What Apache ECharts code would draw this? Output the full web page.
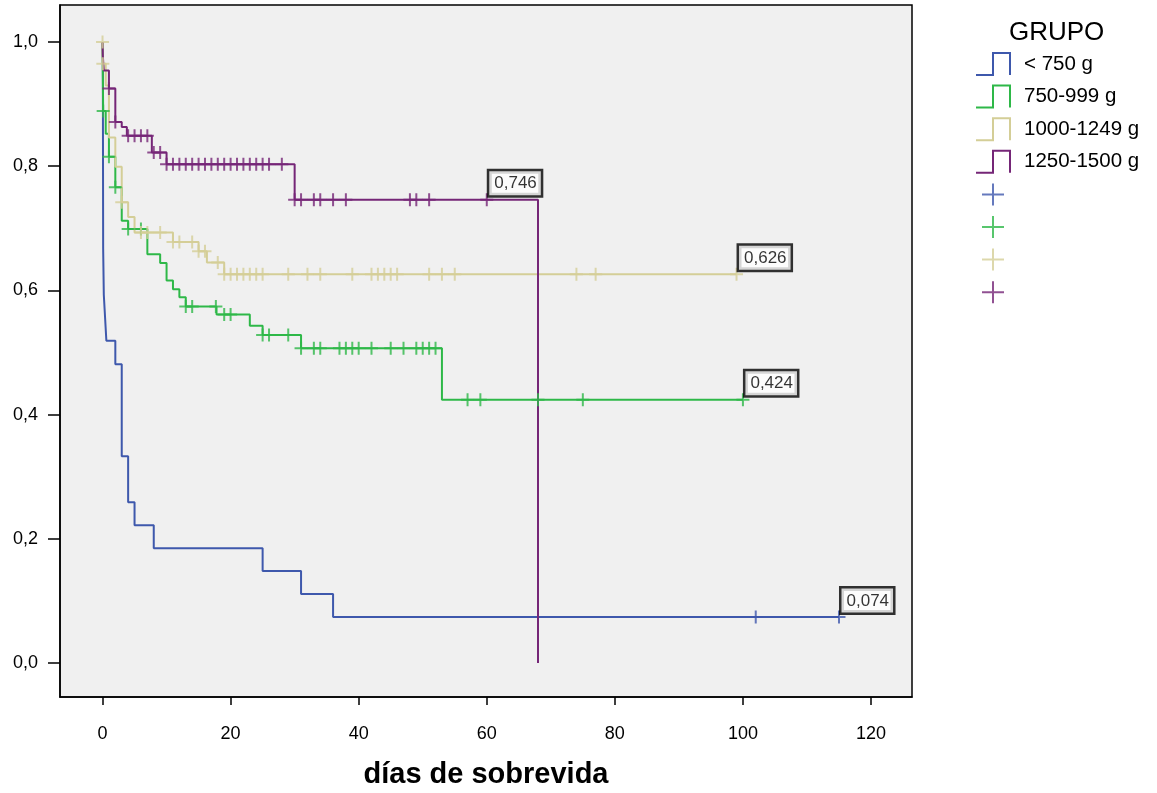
<!DOCTYPE html>
<html>
<head>
<meta charset="utf-8">
<script src="https://cdn.jsdelivr.net/npm/echarts@6/dist/echarts.min.js"></script>
<style>
html, body { margin: 0; padding: 0; background: #ffffff; }
#chart { width: 1157px; height: 793px; }
</style>
</head>
<body>
<div id="chart"></div>
<script>
// Curvas de supervivencia de Kaplan-Meier por grupo de peso al nacer

const grupos = ['< 750 g', '750-999 g', '1000-1249 g', '1250-1500 g'];
const colores = ['#3E58AC', '#2EB848', '#D4CE97', '#752677'];

// Tiempos (días) en que cambia la supervivencia acumulada y su valor desde ese tiempo
const t_g1 = [0, 0.05, 0.1, 0.2, 0.4, 0.6, 2, 3, 4, 5, 8, 25, 31, 36, 115];
const s_g1 = [1, 0.963, 0.667, 0.593, 0.556, 0.519, 0.481, 0.333, 0.259, 0.222, 0.185, 0.148, 0.111, 0.074, 0.074];
// Tiempos de los casos censurados
const c_g1 = [102, 115];

const t_g2 = [0, 0.05, 0.1, 0.5, 1, 2, 3, 4, 7, 9, 10, 11, 12, 13, 17.8, 23, 25, 31, 53, 100];
const s_g2 = [1, 0.944, 0.889, 0.852, 0.815, 0.766, 0.712, 0.699, 0.658, 0.644, 0.616, 0.602, 0.589, 0.574, 0.561, 0.543, 0.528, 0.507, 0.424, 0.424];
const c_g2 = [0.1, 1, 2, 4, 6, 13, 14, 17.7, 19, 20, 25, 26, 29, 31, 33, 34, 37, 38, 39, 40, 42, 45, 47, 49, 50, 51, 52, 57, 59, 68, 75, 100];

const t_g3 = [0, 0.01, 0.5, 1, 2, 3, 4, 5, 11, 15, 16.3, 19, 99];
const s_g3 = [1, 0.965, 0.93, 0.846, 0.799, 0.742, 0.718, 0.693, 0.678, 0.663, 0.645, 0.626, 0.626];
const c_g3 = [0, 0.05, 3, 6, 7, 9, 11, 12, 14, 15, 16, 18, 19, 20, 21, 22, 23, 24, 25, 29, 32, 34, 39, 42, 43, 44, 45, 46, 51, 53, 55, 74, 77, 99];

const t_g4 = [0, 0.05, 0.2, 1, 2, 3, 3.8, 7.7, 10, 30, 68];
const s_g4 = [1, 0.977, 0.954, 0.925, 0.871, 0.863, 0.849, 0.822, 0.803, 0.746, 0];
const c_g4 = [1, 2, 4, 5, 6, 7, 8, 9, 10, 11, 12, 13, 14, 15, 16, 17, 18, 19, 20, 21, 22, 23, 24, 25, 26, 28, 30, 31, 33, 34, 36, 38, 48, 49, 51, 60];

// Marcas de los ejes
const marcasX = [0, 20, 40, 60, 80, 100, 120];
const marcasY = [0, 0.2, 0.4, 0.6, 0.8, 1.0];

const tiempos = [t_g1, t_g2, t_g3, t_g4];
const superv = [s_g1, s_g2, s_g3, s_g4];
const censurados = [c_g1, c_g2, c_g3, c_g4];

const FUENTE = '"Liberation Sans", Arial, Helvetica, sans-serif';
const iconoEscalon = 'path://M0,22L17,22L17,0L34,0L34,22';
const iconoCruz = 'path://M11,0L11,22M0,11L22,11';
const simboloCruz = 'path://M6,0L6,12M0,6L12,6';

const coma = v => v.toFixed(3).replace('.', ',');

// Supervivencia de la curva escalonada en el tiempo t
function nivel(t, ts, ss) {
  let v = ss[0];
  for (let i = 0; i < ts.length; i++) {
    if (ts[i] <= t) v = ss[i];
  }
  return v;
}

const series = [];
grupos.forEach((g, i) => {
  series.push({
    name: g,
    type: 'line',
    step: 'end',
    showSymbol: false,
    symbol: 'none',
    data: tiempos[i].map((t, k) => [t, superv[i][k]]),
    lineStyle: { color: colores[i], width: 2 },
    itemStyle: { color: colores[i] },
    z: 2,
    silent: true
  });
});
grupos.forEach((g, i) => {
  const cs = censurados[i];
  series.push({
    name: g + ' censurado',
    type: 'scatter',
    symbol: simboloCruz,
    symbolSize: 13,
    itemStyle: { color: 'rgba(0,0,0,0)', borderColor: colores[i], borderWidth: 2 },
    z: 3,
    silent: true,
    data: cs.map((t, k) => {
      const v = nivel(t, tiempos[i], superv[i]);
      const item = { value: [t, v] };
      if (k === cs.length - 1) {
        item.label = {
          show: true,
          formatter: () => coma(v),
          position: [10, -21],
          align: 'left',
          verticalAlign: 'top',
          backgroundColor: '#ffffff',
          borderColor: '#000000',
          borderWidth: 2.5,
          padding: [4, 4, 3, 5],
          color: '#000000',
          fontFamily: FUENTE,
          fontSize: 17
        };
      }
      return item;
    })
  });
});

const leyenda = [];
grupos.forEach((g, i) => {
  leyenda.push({
    name: g,
    icon: iconoEscalon,
    itemStyle: { color: 'rgba(0,0,0,0)', borderColor: colores[i], borderWidth: 2 }
  });
});
grupos.forEach((g, i) => {
  leyenda.push({
    name: g + ' censurado',
    icon: iconoCruz,
    itemStyle: { color: 'rgba(0,0,0,0)', borderColor: colores[i], borderWidth: 2 }
  });
});

const chart = echarts.init(document.getElementById('chart'), null, { renderer: 'canvas' });
chart.setOption({
  animation: false,
  backgroundColor: '#ffffff',
  title: {
    text: 'GRUPO',
    left: 1009,
    top: 20,
    padding: 0,
    textStyle: { fontFamily: FUENTE, fontSize: 26, fontWeight: 'normal', color: '#000000' }
  },
  legend: {
    orient: 'vertical',
    left: 975,
    top: 52,
    padding: 0,
    itemWidth: 34,
    itemHeight: 22,
    itemGap: 8.6,
    selectedMode: false,
    symbolKeepAspect: true,
    formatter: name => (grupos.indexOf(name) >= 0 ? name : ''),
    textStyle: { fontFamily: FUENTE, fontSize: 20.5, lineHeight: 22, color: '#000000', padding: [0, 0, 0, 9] },
    data: leyenda
  },
  grid: {
    left: 60,
    right: 245,
    top: 5,
    bottom: 96,
    outerBoundsMode: 'none',
    show: true,
    backgroundColor: '#F0F0F0',
    borderColor: '#000000',
    borderWidth: 1.5
  },
  xAxis: {
    type: 'value',
    min: -6.64,
    max: 126.4,
    name: 'días de sobrevida',
    nameLocation: 'middle',
    nameGap: 63,
    nameTextStyle: { fontFamily: FUENTE, fontSize: 29, fontWeight: 'bold', color: '#000000' },
    axisLine: { show: true, onZero: false, lineStyle: { color: '#000000', width: 1.5 } },
    axisTick: { show: true, length: 8, customValues: marcasX, lineStyle: { color: '#000000', width: 1.5 } },
    axisLabel: { customValues: marcasX, margin: 28, fontFamily: FUENTE, fontSize: 18, color: '#000000' },
    splitLine: { show: false }
  },
  yAxis: {
    type: 'value',
    min: -0.0547,
    max: 1.0595,
    axisLine: { show: true, onZero: false, lineStyle: { color: '#000000', width: 1.5 } },
    axisTick: { show: true, length: 12, customValues: marcasY, lineStyle: { color: '#000000', width: 1.5 } },
    axisLabel: {
      customValues: marcasY,
      margin: 22,
      fontFamily: FUENTE,
      fontSize: 18,
      color: '#000000',
      formatter: v => v.toFixed(1).replace('.', ',')
    },
    splitLine: { show: false }
  },
  series: series
});
</script>
</body>
</html>
